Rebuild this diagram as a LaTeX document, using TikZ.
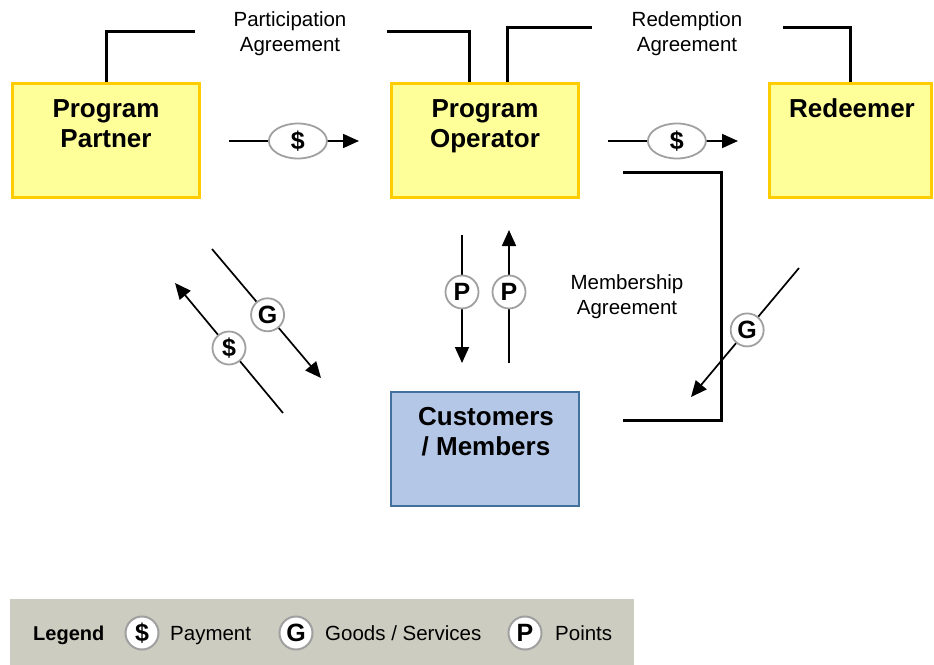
\documentclass[tikz,border=0pt]{standalone}
\usepackage{fontspec}
\setmainfont{Liberation Sans}
\usetikzlibrary{arrows.meta,shapes.geometric}
\definecolor{yfill}{HTML}{FFFF99}
\definecolor{yborder}{HTML}{FFCC00}
\definecolor{bfill}{HTML}{B4C7E7}
\definecolor{bborder}{HTML}{41719C}
\definecolor{legbg}{HTML}{CCCCC0}
\definecolor{cborder}{HTML}{A0A0A0}
\begin{document}
\begin{tikzpicture}[x=1pt,y=-1pt,
  ybox/.style={draw=yborder,fill=yfill,line width=3pt,minimum height=114pt,inner sep=0pt},
  bbox/.style={draw=bborder,fill=bfill,line width=2pt,minimum width=188pt,minimum height=114pt,inner sep=0pt},
  boxtxt/.style={anchor=base,align=center,inner sep=0pt,font=\fontsize{26}{30}\selectfont\bfseries},
  agrtxt/.style={anchor=base,align=center,inner sep=0pt,font=\fontsize{20.5}{24.5}\selectfont},
  agr/.style={line width=3pt},
  arr/.style={line width=1.7pt,-{Triangle[length=16pt,width=14pt]}},
  circ/.style={circle,draw=cborder,fill=white,line width=1.8pt,minimum size=33pt,inner sep=0pt,font=\fontsize{25}{25}\selectfont\bfseries},
  ell/.style={ellipse,draw=cborder,fill=white,line width=1.8pt,minimum width=58pt,minimum height=35pt,inner sep=0pt,font=\fontsize{25}{25}\selectfont\bfseries},
  legtxt/.style={anchor=base west,inner sep=0pt,font=\fontsize{20.5}{24}\selectfont},
]
\useasboundingbox (0,0) rectangle (934,664);

% boxes
\node[ybox,minimum width=187pt] (pp) at (106,140.5) {};
\node[ybox,minimum width=187pt] (po) at (485,140.5) {};
\node[ybox,minimum width=162pt] (rd) at (850.5,140.5) {};
\node[bbox] (cm) at (485,449) {};

\node[boxtxt] (ppt) at (106,147) {Program\\Partner};
\node[boxtxt] (pot) at (485,147) {Program\\Operator};
\node[boxtxt] (rdt) at (852,117) {Redeemer};
\node[boxtxt] (cmt) at (486,455) {Customers\\/ Members};

% agreements
\coordinate (pa1) at (195,31);
\coordinate (pa2) at (387,31);
\draw[agr] (pp.north) |- (pa1);
\draw[agr] (pa2) -| ([xshift=-16pt]po.north);
\node[agrtxt] (pat) at (290,51) {Participation\\Agreement};

\coordinate (ra1) at (592,27);
\coordinate (ra2) at (783,27);
\draw[agr] ([xshift=22pt]po.north) |- (ra1);
\draw[agr] (ra2) -| (rd.north);
\node[agrtxt] (rat) at (687,51) {Redemption\\Agreement};

\coordinate (ma1) at (623,172);
\coordinate (mc) at (721,300);
\coordinate (ma2) at (623,420);
\draw[agr] (ma1) -| (mc) |- (ma2);
\node[agrtxt] (mat) at (627,314) {Membership\\Agreement};

% flows
\coordinate (h1a) at (229,141);
\coordinate (h1b) at (359,141);
\draw[arr] (h1a) -- node[ell,pos=0.53] (e1) {\$} (h1b);
\coordinate (h2a) at (608,141);
\coordinate (h2b) at (738,141);
\draw[arr] (h2a) -- node[ell,pos=0.53] (e2) {\$} (h2b);

\coordinate (pd1) at (462,235);
\coordinate (pd2) at (462,363);
\draw[arr] (pd1) -- node[circ,pos=0.445] (c1) {P} (pd2);
\coordinate (pu1) at (509,363);
\coordinate (pu2) at (509,230);
\draw[arr] (pu1) -- node[circ,pos=0.534] (c2) {P} (pu2);

\coordinate (g1a) at (212,249);
\coordinate (g1b) at (321,378);
\draw[arr] (g1a) -- node[circ,pos=0.51] (c3) {G} (g1b);
\coordinate (d1a) at (283,413);
\coordinate (d1b) at (175,283);
\draw[arr] (d1a) -- node[circ,pos=0.5] (c4) {\$} (d1b);
\coordinate (g2a) at (799,268);
\coordinate (g2b) at (691,397);
\draw[arr] (g2a) -- node[circ,pos=0.48] (c5) {G} (g2b);

% legend
\node[fill=legbg,minimum width=624pt,minimum height=66pt,inner sep=0pt,anchor=north west] (leg) at (10,599) {};
\node[legtxt,font=\fontsize{20}{24}\selectfont\bfseries] (lg) at (33,640) {Legend};
\node[circ,line width=2pt] (l1) at (142,633) {\$};
\node[legtxt] (l1t) at (170,640) {Payment};
\node[circ,line width=2pt] (l2) at (296,633) {G};
\node[legtxt] (l2t) at (325,640) {Goods / Services};
\node[circ,line width=2pt] (l3) at (525,633) {P};
\node[legtxt] (l3t) at (555,640) {Points};
\end{tikzpicture}
\end{document}
